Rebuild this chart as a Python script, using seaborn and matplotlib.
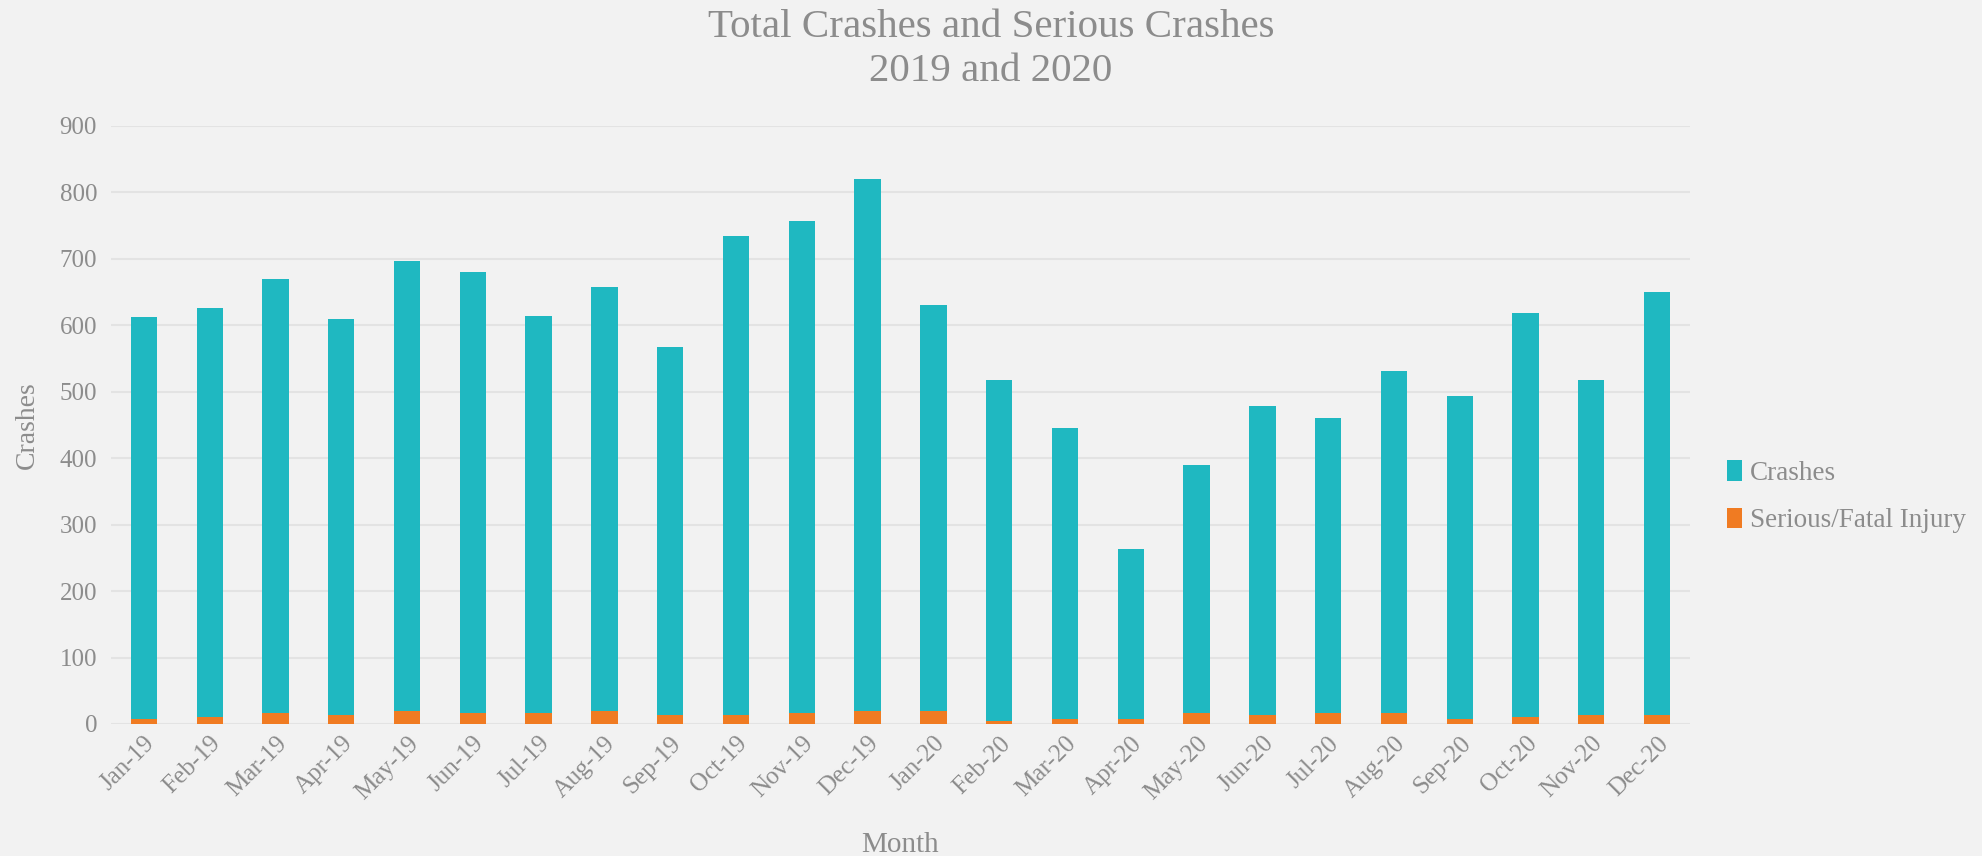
import pandas as pd
import matplotlib.pyplot as plt
import seaborn as sns

# monthly values
months = ["Jan-19", "Feb-19", "Mar-19", "Apr-19", "May-19", "Jun-19",
          "Jul-19", "Aug-19", "Sep-19", "Oct-19", "Nov-19", "Dec-19",
          "Jan-20", "Feb-20", "Mar-20", "Apr-20", "May-20", "Jun-20",
          "Jul-20", "Aug-20", "Sep-20", "Oct-20", "Nov-20", "Dec-20"]
crashes = [612, 626, 669, 609, 697, 681, 614, 658, 568, 734, 757, 820,
           630, 517, 445, 264, 390, 478, 461, 531, 493, 619, 517, 650]
serious = [8, 10, 16, 13, 20, 16, 16, 20, 14, 14, 16, 19,
           19, 5, 8, 7, 16, 13, 16, 17, 8, 11, 13, 14]

df = pd.DataFrame({"Month": months, "Crashes": crashes, "Serious": serious})

bg = "#f2f2f2"
txt = "#8c8c8c"
teal = "#1fb8c1"
orange = "#f07b22"

sns.set_theme(style="white")
plt.rcParams["font.family"] = ["Liberation Serif", "DejaVu Serif"]

fig = plt.figure(figsize=(19.82, 8.56), dpi=100, facecolor=bg)
ax = fig.add_axes([111 / 1982, 1 - 724 / 856, (1690 - 111) / 1982, (724 - 126) / 856])
ax.set_facecolor(bg)

sns.barplot(data=df, x="Month", y="Crashes", color=teal, width=0.4,
            saturation=1, label="Crashes", edgecolor="none", ax=ax)
sns.barplot(data=df, x="Month", y="Serious", color=orange, width=0.4,
            saturation=1, label="Serious/Fatal Injury", edgecolor="none", ax=ax)

ax.set_ylim(0, 900)
ax.set_yticks(range(0, 901, 100))
ax.set_xlim(-0.5, len(months) - 0.5)
ax.yaxis.grid(True, color="#e3e3e3", linewidth=1.5)
ax.set_axisbelow(True)
for s in ax.spines.values():
    s.set_visible(False)
ax.tick_params(axis="both", colors=txt, labelsize=18, length=0)
ax.tick_params(axis="y", pad=10)
ax.tick_params(axis="x", pad=6)
plt.setp(ax.get_xticklabels(), rotation=45, ha="right", rotation_mode="anchor")

ax.set_xlabel("Month", color=txt, fontsize=21, labelpad=20)
ax.set_ylabel("Crashes", color=txt, fontsize=20, labelpad=14)

fig.text(0.5, 0.99, "Total Crashes and Serious Crashes\n2019 and 2020",
         ha="center", va="top", color=txt, fontsize=29.5, linespacing=1.25)

leg = ax.legend(loc="center left", bbox_to_anchor=(1.008, 0.38), frameon=False,
                fontsize=19.5, handlelength=0.55, handleheight=0.8,
                handletextpad=0.3, labelspacing=0.8)
for t in leg.get_texts():
    t.set_color(txt)

fig.savefig("out.png", dpi=100, facecolor=bg)
